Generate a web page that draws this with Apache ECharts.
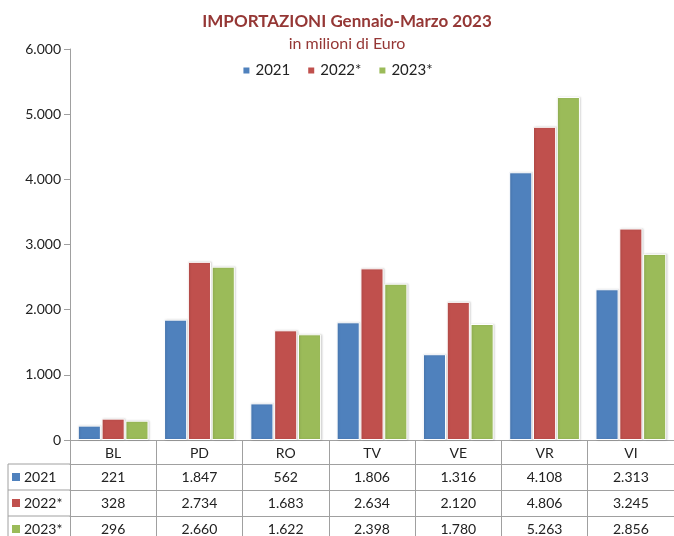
<!DOCTYPE html>
<html>
<head>
<meta charset="utf-8">
<script src="https://cdn.jsdelivr.net/npm/echarts@6/dist/echarts.min.js"></script>
<style>
  html, body { margin: 0; padding: 0; background: #fff; }
  #chart { width: 674px; height: 536px; }
</style>
</head>
<body>
<div id="chart"></div>
<script>
// dati
var province = ['BL', 'PD', 'RO', 'TV', 'VE', 'VR', 'VI'];
var anni = ['2021', '2022*', '2023*'];
var v2021 = [221, 1847, 562, 1806, 1316, 4108, 2313];
var v2022 = [328, 2734, 1683, 2634, 2120, 4806, 3245];
var v2023 = [296, 2660, 1622, 2398, 1780, 5263, 2856];
var yTicks = [0, 1000, 2000, 3000, 4000, 5000, 6000];

var colori = ['#4F81BD', '#C0504D', '#9BBB59'];
var serie = [v2021, v2022, v2023];
var font = 'Lato, "Open Sans", sans-serif';
var gridLeft = 70, gridTop = 49, gridH = 391;
var rowOff = [24, 50, 76]; // righe della tabella sotto l'asse
var lineCol = '#a0a0a0';

function fmt(v) {
  return String(v).replace(/\B(?=(\d{3})+(?!\d))/g, '.');
}

var chart = echarts.init(document.getElementById('chart'));

var xAxes = [{
  type: 'category',
  data: province,
  position: 'bottom',
  axisLine: { lineStyle: { color: lineCol } },
  axisTick: { show: true, length: 100, lineStyle: { color: lineCol } },
  axisLabel: { color: '#222', fontSize: 14, fontFamily: font, margin: 6 }
}];
// una riga della tabella per ogni anno
for (var i = 0; i < serie.length; i++) {
  (function (vals, off) {
    xAxes.push({
      type: 'category',
      data: province,
      position: 'bottom',
      offset: off,
      axisLine: { show: true, onZero: false, lineStyle: { color: lineCol } },
      axisTick: { show: false },
      axisLabel: {
        color: '#222', fontSize: 14, fontFamily: font, margin: 6,
        formatter: function (val, idx) { return fmt(vals[idx]); }
      }
    });
  })(serie[i], rowOff[i]);
}

var series = serie.map(function (vals, i) {
  return {
    name: anni[i],
    type: 'bar',
    data: vals,
    barGap: '3%',
    barCategoryGap: '18%',
    itemStyle: {
      color: colori[i],
      borderColor: '#fff',
      borderWidth: 1,
      shadowColor: 'rgba(0,0,0,0.15)',
      shadowBlur: 2,
      shadowOffsetX: 1
    }
  };
});

// colonna sinistra della tabella (legenda delle righe)
var graphic = [];
var tableL = 8, axisY = gridTop + gridH;
graphic.push({
  type: 'line', silent: true,
  shape: { x1: tableL, y1: axisY + rowOff[0], x2: tableL, y2: axisY + 110 },
  style: { stroke: lineCol, lineWidth: 1 }
});
for (var r = 0; r < anni.length; r++) {
  var y0 = axisY + rowOff[r];
  var y1 = r + 1 < rowOff.length ? axisY + rowOff[r + 1] : axisY + rowOff[r] + 26;
  graphic.push({
    type: 'line', silent: true,
    shape: { x1: tableL, y1: y0, x2: gridLeft, y2: y0 },
    style: { stroke: lineCol, lineWidth: 1 }
  });
  graphic.push({
    type: 'rect', silent: true,
    shape: { x: tableL + 4, y: (y0 + y1) / 2 - 4, width: 8, height: 8 },
    style: { fill: colori[r] }
  });
  graphic.push({
    type: 'text', silent: true,
    x: tableL + 16, y: (y0 + y1) / 2,
    style: { text: anni[r], fill: '#222', fontSize: 14, fontFamily: font, verticalAlign: 'middle' }
  });
}

chart.setOption({
  backgroundColor: '#fff',
  animation: false,
  title: {
    text: 'IMPORTAZIONI Gennaio-Marzo 2023',
    subtext: 'in milioni di Euro',
    left: 342,
    textAlign: 'center',
    top: 8,
    itemGap: 6,
    textStyle: { color: '#953735', fontSize: 17, fontWeight: 'bold', fontFamily: font },
    subtextStyle: { color: '#953735', fontSize: 16, fontFamily: font }
  },
  legend: {
    data: anni,
    top: 58,
    left: 'center',
    icon: 'rect',
    itemWidth: 8,
    itemHeight: 8,
    itemGap: 16,
    textStyle: { color: '#222', fontSize: 15, fontFamily: font }
  },
  grid: { left: gridLeft, top: gridTop, width: 607, height: gridH, containLabel: false },
  xAxis: xAxes,
  yAxis: {
    type: 'value',
    min: yTicks[0],
    max: yTicks[yTicks.length - 1],
    interval: yTicks[1] - yTicks[0],
    axisLine: { show: true, lineStyle: { color: lineCol } },
    axisTick: { show: true, length: 6, lineStyle: { color: lineCol } },
    splitLine: { show: false },
    axisLabel: { color: '#222', fontSize: 14, fontFamily: font, margin: 9, formatter: fmt }
  },
  series: series,
  graphic: graphic
});
</script>
</body>
</html>
